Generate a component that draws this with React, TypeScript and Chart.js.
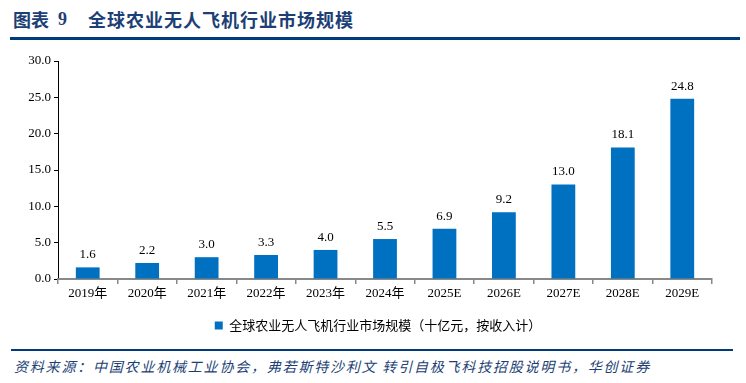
import React, { useEffect, useRef } from "react";
import { Chart, registerables } from "chart.js";

Chart.register(...registerables);

const categories = ["2019年", "2020年", "2021年", "2022年", "2023年", "2024年", "2025E", "2026E", "2027E", "2028E", "2029E"];
const marketSize = [1.6, 2.2, 3.0, 3.3, 4.0, 5.5, 6.9, 9.2, 13.0, 18.1, 24.8];
const seriesLabel = "全球农业无人飞机行业市场规模（十亿元，按收入计）";
const yTicks = [0, 5, 10, 15, 20, 25, 30];

const SERIF = "'Liberation Serif', 'Times New Roman', 'Noto Sans CJK SC', serif";
const CJK = "'Noto Sans CJK SC', 'Liberation Serif', serif";
const NAVY = "#1C3F75";

const dataLabelPlugin = {
  id: "dataLabels",
  afterDatasetsDraw(chart: any) {
    const ctx = chart.ctx;
    const meta = chart.getDatasetMeta(0);
    ctx.save();
    ctx.font = `13px ${SERIF}`;
    ctx.fillStyle = "#000";
    ctx.textAlign = "center";
    ctx.textBaseline = "bottom";
    meta.data.forEach((bar: any, i: number) => {
      const v = chart.data.datasets[0].data[i] as number;
      ctx.fillText(v.toFixed(1), bar.x, bar.y - 6);
    });
    ctx.restore();
  },
};

const legendShiftPlugin = {
  id: "legendShift",
  afterLayout(chart: any) {
    if (chart.legend) {
      chart.legend.left += 22;
      chart.legend.right += 22;
    }
  },
};

export default function App() {
  const ref = useRef<HTMLCanvasElement>(null);

  useEffect(() => {
    if (!ref.current) return;
    const chart = new Chart(ref.current, {
      type: "bar",
      data: {
        labels: categories,
        datasets: [
          {
            label: seriesLabel,
            data: marketSize,
            backgroundColor: "#0070C0",
            barPercentage: 0.4,
            categoryPercentage: 1.0,
          },
        ],
      },
      options: {
        responsive: false,
        animation: false,
        layout: { padding: { top: 61, right: 34, left: 0, bottom: 3 } },
        scales: {
          y: {
            min: 0,
            max: 30,
            afterBuildTicks: (s: any) => {
              s.ticks = yTicks.map((v) => ({ value: v }));
            },
            afterFit: (s: any) => {
              s.width = 58;
            },
            ticks: {
              callback: (v: any) => Number(v).toFixed(1),
              font: { size: 13, family: SERIF },
              color: "#000",
              padding: 3,
            },
            grid: { drawOnChartArea: false, tickLength: 4, color: "#000" },
            border: { color: "#000", width: 1 },
          },
          x: {
            afterFit: (s: any) => {
              s.height = 30;
            },
            ticks: {
              font: { size: 13, family: SERIF },
              color: "#000",
              padding: 2,
              maxRotation: 0,
              autoSkip: false,
            },
            grid: { offset: true, drawOnChartArea: false, tickLength: 5, color: "#888", lineWidth: 1.5 },
            border: { color: "#888", width: 2 },
          },
        },
        plugins: {
          legend: {
            position: "bottom",
            labels: {
              boxWidth: 8,
              boxHeight: 8,
              padding: 10,
              color: "#000",
              font: { size: 13, family: CJK },
            },
          },
          tooltip: { enabled: false },
        },
      },
      plugins: [dataLabelPlugin, legendShiftPlugin],
    });
    return () => chart.destroy();
  }, []);

  return (
    <div style={{ position: "absolute", left: 0, top: 0, width: 746, height: 383, background: "#fff", overflow: "hidden" }}>
      <div style={{ position: "absolute", left: 13, top: 7, font: `bold 18px ${CJK}`, color: NAVY, whiteSpace: "nowrap", lineHeight: "24px" }}>
        图表
      </div>
      <div style={{ position: "absolute", left: 58, top: 7, font: `bold 18px ${SERIF}`, color: NAVY, whiteSpace: "nowrap", lineHeight: "24px" }}>
        9
      </div>
      <div style={{ position: "absolute", left: 88, top: 7, font: `bold 18px ${CJK}`, color: NAVY, letterSpacing: "1px", whiteSpace: "nowrap", lineHeight: "24px" }}>
        全球农业无人飞机行业市场规模
      </div>
      <div style={{ position: "absolute", left: 10, top: 37, width: 730, height: 3, background: "#003B7A" }} />
      <canvas ref={ref} width={746} height={345} style={{ position: "absolute", left: 0, top: 0, width: 746, height: 345 }} />
      <div style={{ position: "absolute", left: 11, top: 349, width: 722, height: 2, background: "#003B7A" }} />
      <div style={{ position: "absolute", left: 14, top: 356, font: `italic 14px ${CJK}`, color: NAVY, letterSpacing: "1.8px", whiteSpace: "nowrap", lineHeight: "20px" }}>
        资料来源：中国农业机械工业协会，弗若斯特沙利文 转引自极飞科技招股说明书，华创证券
      </div>
    </div>
  );
}
